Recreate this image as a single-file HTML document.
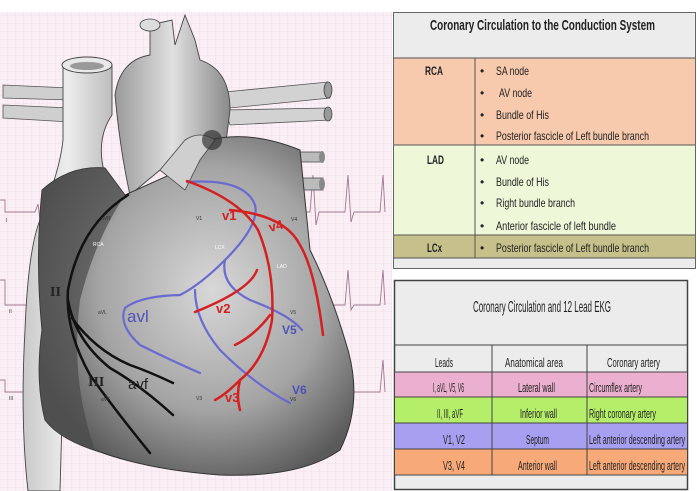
<!DOCTYPE html>
<html><head><meta charset="utf-8"><style>
body{margin:0;width:697px;height:491px;overflow:hidden;background:#fff;font-family:"Liberation Sans",sans-serif}
#c{position:absolute;left:0;top:0}
</style></head><body>
<svg id="c" width="697" height="491" viewBox="0 0 697 491">
<defs>
<pattern id="g" width="8" height="8" patternUnits="userSpaceOnUse"><path d="M8 0V8H0" fill="none" stroke="#efd2df" stroke-width="0.6"/></pattern>
<radialGradient id="hg" cx="0.55" cy="0.45" r="0.6"><stop offset="0" stop-color="#d8d8d8"/><stop offset="0.6" stop-color="#a4a4a4"/><stop offset="1" stop-color="#5a5a5a"/></radialGradient>
<linearGradient id="ag" x1="0" y1="0" x2="1" y2="0"><stop offset="0" stop-color="#9a9a9a"/><stop offset="0.5" stop-color="#e0e0e0"/><stop offset="1" stop-color="#8a8a8a"/></linearGradient>
<linearGradient id="tg" x1="0" y1="0" x2="1" y2="0"><stop offset="0" stop-color="#c9c9c9"/><stop offset="0.5" stop-color="#ededed"/><stop offset="1" stop-color="#bdbdbd"/></linearGradient>
</defs>
<rect x="0" y="12" width="392" height="479" fill="#f9eff4"/>
<rect x="0" y="12" width="392" height="479" fill="url(#g)"/>
<g fill="none" stroke="#a07890" stroke-width="0.9">
<path d="M0 200 L5 200 L5 212 L35 212 L38 204 L40 220 L43 212 L90 212 L93 200 L96 225 L99 212 L150 212 L153 200 L156 225 L159 212 L210 212 L213 198 L216 225 L219 212 L270 212 L273 200 L276 225 L279 212 L310 212 L313 175 L316 225 L319 212 L345 212 L348 175 L351 222 L354 212 L380 212 L383 175 L385 212"/>
<path d="M0 280 L5 280 L5 305 L35 305 L38 297 L40 310 L43 305 L90 305 L93 275 L96 310 L99 305 L150 305 L153 275 L156 310 L159 305 L210 305 L213 275 L216 310 L219 305 L270 305 L273 275 L276 310 L279 305 L310 305 L313 270 L316 310 L319 305 L345 305 L348 270 L351 310 L354 305 L380 305 L383 270 L385 305"/>
<path d="M0 380 L5 380 L5 392 L35 392 L38 385 L40 398 L43 392 L90 392 L93 362 L96 398 L99 392 L150 392 L153 362 L156 398 L159 392 L210 392 L213 355 L216 398 L219 392 L270 392 L273 362 L276 398 L279 392 L310 392 L313 360 L316 398 L319 392 L345 392 L348 360 L351 398 L354 392 L380 392 L383 360 L385 392"/>
</g>
<path d="M3 85 L70 88 L70 100 L3 98 Z" fill="#cfcfcf" stroke="#555" stroke-width="0.8"/>
<path d="M3 105 L70 108 L70 122 L3 118 Z" fill="#cfcfcf" stroke="#555" stroke-width="0.8"/>
<path d="M225 92 L328 82 L330 98 L230 108 Z" fill="#d2d2d2" stroke="#555" stroke-width="0.8"/>
<path d="M225 110 L328 108 L330 120 L230 125 Z" fill="#d2d2d2" stroke="#555" stroke-width="0.8"/>
<ellipse cx="328" cy="90" rx="4" ry="8" fill="#999" stroke="#444" stroke-width="0.8"/>
<ellipse cx="328" cy="114" rx="4" ry="7" fill="#999" stroke="#444" stroke-width="0.8"/>
<path d="M290 152 L323 152 L323 162 L290 162 Z M290 178 L323 178 L323 190 L290 190 Z" fill="#bbb" stroke="#444" stroke-width="0.8"/>
<ellipse cx="322" cy="157" rx="3" ry="6" fill="#888"/><ellipse cx="322" cy="184" rx="3" ry="6" fill="#888"/>
<path d="M63 65 L112 65 L112 115 Q95 140 105 175 L80 200 Q60 230 45 300 Q40 380 62 420 L60 491 L28 491 Q20 420 25 330 Q28 250 40 220 Q60 170 63 140 Z" fill="url(#tg)" stroke="#444" stroke-width="0.9"/>
<ellipse cx="87" cy="65" rx="25" ry="8" fill="#e8e8e8" stroke="#444" stroke-width="0.9"/>
<ellipse cx="87" cy="66" rx="17" ry="4" fill="#999"/>
<path d="M115 95 Q120 60 150 55 L150 25 L172 20 L175 45 L185 15 L195 40 L200 60 Q230 70 230 110 L225 150 L205 170 L185 190 L160 170 L130 195 Q120 150 115 95 Z" fill="url(#ag)" stroke="#444" stroke-width="0.9"/>
<ellipse cx="150" cy="25" rx="10" ry="6" fill="#ddd" stroke="#444" stroke-width="0.8"/>
<path d="M42 190 Q70 165 105 168 L125 195 L185 168 L210 140 Q250 130 300 150 L305 200 L310 250 Q330 290 345 340 Q365 400 340 450 Q300 478 220 475 Q150 470 100 452 Q60 440 45 420 Q35 380 42 330 Q35 260 42 190 Z" fill="url(#hg)" stroke="#333" stroke-width="1"/>
<path d="M42 190 Q70 165 105 168 L125 195 Q95 240 80 300 Q70 380 95 450 Q60 440 45 420 Q35 380 42 330 Q35 260 42 190 Z" fill="#4a4a4a" opacity="0.7"/>
<path d="M160 170 L185 190 L200 160 L215 140 Q200 130 185 140 Z" fill="#cfcfcf" stroke="#444" stroke-width="0.8"/>
<ellipse cx="212" cy="140" rx="10" ry="10" fill="#333" opacity="0.7"/>
<g fill="none" stroke-linecap="round">
<path d="M128 195 Q80 225 68 290 Q65 330 90 375 Q115 410 150 453" stroke="#111" stroke-width="2.5"/>
<path d="M68 300 Q75 340 110 368 Q140 385 173 415" stroke="#111" stroke-width="2.5"/>
<path d="M72 318 Q95 350 130 365 Q150 372 173 383" stroke="#111" stroke-width="2.5"/>
<path d="M187 182 Q245 178 255 205 Q260 225 225 260 Q200 285 180 295 Q140 296 125 308 Q118 325 140 345 Q170 360 200 373" stroke="#6a6ad0" stroke-width="2.2"/>
<path d="M195 290 Q195 320 220 350 Q255 385 290 403" stroke="#6a6ad0" stroke-width="2.2"/>
<path d="M225 260 Q220 285 250 300 Q290 315 302 330" stroke="#6a6ad0" stroke-width="2.2"/>
<path d="M187 181 Q240 200 258 230 Q275 270 272 320 Q265 360 240 380 Q225 395 215 400" stroke="#d42020" stroke-width="2.5"/>
<path d="M240 380 Q236 395 240 410" stroke="#d42020" stroke-width="2.5"/>
<path d="M230 210 Q285 215 300 245 Q315 270 323 335" stroke="#d42020" stroke-width="2.5"/>
<path d="M257 270 Q250 290 195 312" stroke="#d42020" stroke-width="2.5"/>
<path d="M270 315 Q255 335 235 345" stroke="#d42020" stroke-width="2.5"/>
</g>
<g font-family="Liberation Sans, sans-serif" font-weight="bold">
<text x="222" y="220" fill="#d42020" font-size="13">v1</text>
<text x="270" y="232" fill="#d42020" font-size="13" transform="rotate(-15 270 232)">v4</text>
<text x="216" y="313" fill="#d42020" font-size="13">v2</text>
<text x="225" y="402" fill="#d42020" font-size="13">v3</text>
<text x="127" y="322" fill="#5050b8" font-size="17" font-weight="normal">avl</text>
<text x="282" y="334" fill="#5050b8" font-size="12">V5</text>
<text x="292" y="394" fill="#5050b8" font-size="12">V6</text>
<text x="50" y="296" fill="#222" font-size="14" font-family="Liberation Serif, serif">II</text>
<text x="88" y="386" fill="#222" font-size="14" font-family="Liberation Serif, serif">III</text>
<text x="128" y="389" fill="#222" font-size="15" font-weight="normal">avf</text>
</g>
<g font-family="Liberation Sans, sans-serif" font-size="5" fill="#fff">
<text x="93" y="246">RCA</text><text x="215" y="249">LCX</text><text x="277" y="268">LAD</text>
</g>
<g font-family="Liberation Sans, sans-serif" font-size="5" fill="#333">
<text x="6" y="222">I</text><text x="101" y="220">aVR</text><text x="196" y="220">V1</text><text x="291" y="221">V4</text>
<text x="9" y="313">II</text><text x="98" y="314">aVL</text><text x="290" y="314">V5</text>
<text x="9" y="400">III</text><text x="101" y="401">aVF</text><text x="196" y="400">V3</text><text x="290" y="401">V6</text>
</g>
<rect x="392" y="0" width="305" height="491" fill="#fff"/>
<rect x="393.5" y="12.5" width="302" height="256" fill="#ececec" stroke="#666"/>
<rect x="394" y="58" width="301" height="87" fill="#f7c9ad"/>
<rect x="394" y="145" width="301" height="90" fill="#eef7d8"/>
<rect x="394" y="235" width="301" height="23" fill="#c6c18a"/>
<path d="M394 58H695M394 145H695M394 235H695M394 258H695M475 58V258" stroke="#555" stroke-width="1"/>
<g font-family="Liberation Sans, sans-serif" fill="#222" lengthAdjust="spacingAndGlyphs">
<text x="430" y="30" font-size="15" font-weight="bold" textLength="225" lengthAdjust="spacingAndGlyphs">Coronary Circulation to the Conduction System</text>
<text x="425" y="75" font-size="12" font-weight="bold" textLength="18" lengthAdjust="spacingAndGlyphs">RCA</text>
<text x="427" y="164" font-size="12" font-weight="bold" textLength="17" lengthAdjust="spacingAndGlyphs">LAD</text>
<text x="427" y="252" font-size="12" font-weight="bold" textLength="15" lengthAdjust="spacingAndGlyphs">LCx</text>
<g font-size="12">
<text x="480" y="75">•</text><text x="496" y="75" textLength="33" lengthAdjust="spacingAndGlyphs">SA node</text>
<text x="480" y="97">•</text><text x="499" y="97" textLength="33" lengthAdjust="spacingAndGlyphs">AV node</text>
<text x="480" y="119">•</text><text x="496" y="119" textLength="53" lengthAdjust="spacingAndGlyphs">Bundle of His</text>
<text x="480" y="140">•</text><text x="496" y="140" textLength="153" lengthAdjust="spacingAndGlyphs">Posterior fascicle of Left bundle branch</text>
<text x="480" y="164">•</text><text x="496" y="164" textLength="33" lengthAdjust="spacingAndGlyphs">AV node</text>
<text x="480" y="186">•</text><text x="496" y="186" textLength="53" lengthAdjust="spacingAndGlyphs">Bundle of His</text>
<text x="480" y="207">•</text><text x="496" y="207" textLength="79" lengthAdjust="spacingAndGlyphs">Right bundle branch</text>
<text x="480" y="230">•</text><text x="496" y="230" textLength="120" lengthAdjust="spacingAndGlyphs">Anterior fascicle of left bundle</text>
<text x="480" y="252">•</text><text x="496" y="252" textLength="153" lengthAdjust="spacingAndGlyphs">Posterior fascicle of Left bundle branch</text>
</g></g>
<rect x="394.5" y="280.5" width="293" height="209" fill="#ececec" stroke="#444" stroke-width="1.5"/>
<rect x="395" y="372" width="292" height="25" fill="#ebb0cf"/>
<rect x="395" y="397" width="292" height="26" fill="#b5ef6a"/>
<rect x="395" y="423" width="292" height="26" fill="#a79ff0"/>
<rect x="395" y="449" width="292" height="26" fill="#f7a978"/>
<path d="M395 345H687M395 372H687M395 397H687M395 423H687M395 449H687M395 475H687M492 345V475M587 345V475" stroke="#444" stroke-width="1"/>
<g font-family="Liberation Sans, sans-serif" fill="#222">
<text x="473" y="312" font-size="16" textLength="138" lengthAdjust="spacingAndGlyphs">Coronary Circulation and 12 Lead EKG</text>
<g font-size="13">
<text x="435" y="367" textLength="18" lengthAdjust="spacingAndGlyphs">Leads</text>
<text x="505" y="367" textLength="58" lengthAdjust="spacingAndGlyphs">Anatomical area</text>
<text x="607" y="367" textLength="53" lengthAdjust="spacingAndGlyphs">Coronary artery</text>
<text x="433" y="392" textLength="31" lengthAdjust="spacingAndGlyphs">I, aVL, V5, V6</text>
<text x="518" y="392" textLength="37" lengthAdjust="spacingAndGlyphs">Lateral wall</text>
<text x="589" y="392" textLength="53" lengthAdjust="spacingAndGlyphs">Circumflex artery</text>
<text x="437" y="418" textLength="26" lengthAdjust="spacingAndGlyphs">II, III, aVF</text>
<text x="520" y="418" textLength="37" lengthAdjust="spacingAndGlyphs">Inferior wall</text>
<text x="589" y="418" textLength="67" lengthAdjust="spacingAndGlyphs">Right coronary artery</text>
<text x="443" y="444" textLength="22" lengthAdjust="spacingAndGlyphs">V1, V2</text>
<text x="526" y="444" textLength="23" lengthAdjust="spacingAndGlyphs">Septum</text>
<text x="589" y="444" textLength="96" lengthAdjust="spacingAndGlyphs">Left anterior descending artery</text>
<text x="443" y="470" textLength="22" lengthAdjust="spacingAndGlyphs">V3, V4</text>
<text x="518" y="470" textLength="39" lengthAdjust="spacingAndGlyphs">Anterior wall</text>
<text x="589" y="470" textLength="96" lengthAdjust="spacingAndGlyphs">Left anterior descending artery</text>
</g></g>
</svg>
</body></html>
